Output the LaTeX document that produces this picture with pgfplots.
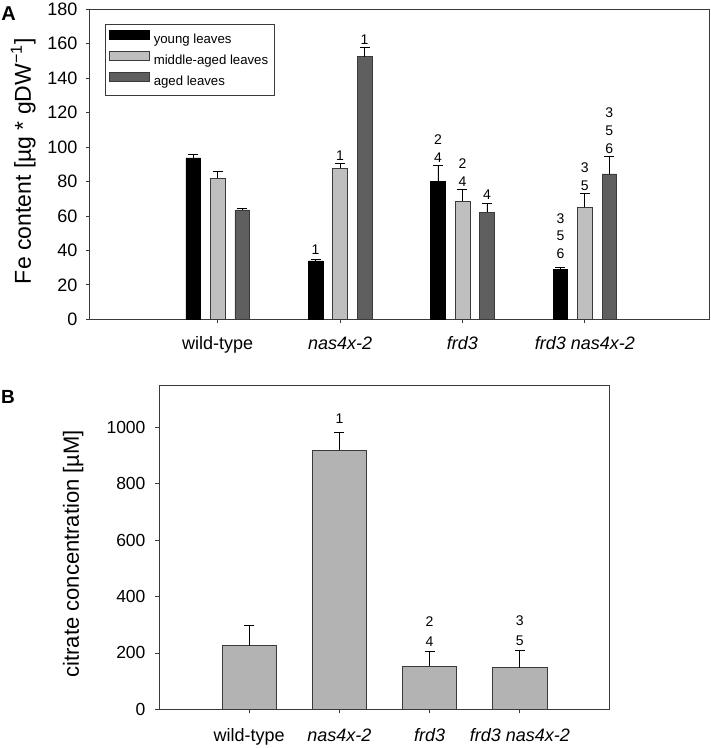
\documentclass[border=0pt]{standalone}
\usepackage{fontspec}
\setmainfont{Liberation Sans}
\usepackage{pgfplots}
\pgfplotsset{compat=1.18}
\definecolor{mid}{HTML}{BFBFBF}
\definecolor{aged}{HTML}{5F5F5F}
\definecolor{citr}{HTML}{B3B3B3}
\definecolor{axc}{HTML}{3A3A3A}
\newcommand{\fsz}[2]{\fontsize{#1}{#2}\selectfont}
\tikzset{ann/.style={anchor=south, font=\fsz{14}{16}, inner sep=1pt}}
\begin{document}
\begin{tikzpicture}
\useasboundingbox (0,0) rectangle (711pt,-748pt);
\begin{axis}[
  at={(90pt,-319.3pt)}, anchor=south west, scale only axis,
  width=619pt, height=310pt, clip=false,
  xmin=-0.043, xmax=5.014, ymin=0, ymax=180,
  ytick={0,20,...,180}, xtick={1,2,3,4},
  xticklabels={wild-type, \textit{nas4x-2}, \textit{frd3}, \textit{frd3 nas4x-2}},
  tick pos=left, tick align=outside, major tick length=4pt,
  axis line style={axc, line width=1pt}, tick style={axc, line width=0.8pt},
  /pgf/number format/assume math mode=true,
  yticklabel style={font=\fsz{18}{20}, xshift=-5pt},
  xticklabel style={font=\fsz{18}{20}, yshift=-10pt},
  ylabel={Fe content [µg * gDW\textsuperscript{−1}]},
  ylabel style={font=\fsz{23}{28}, at={(axis description cs:-0.108,0.51)}, anchor=center},
  ybar, bar width=0.12,
  error bars/y dir=plus, error bars/y explicit,
  error bars/error bar style={black, line width=0.9pt},
  error bars/error mark options={rotate=90, mark size=5pt, line width=0.9pt, black},
  legend image code/.code={\draw[#1] (0pt,0pt) rectangle (40pt,9pt);},
  legend style={at={(axis description cs:0.024,0.953)}, anchor=north west,
    draw=axc, line width=0.8pt, font=\fsz{13.2}{16}, row sep=4.3pt,
    column sep=2.3pt, nodes={inner sep=2pt},
    inner xsep=3.7pt, inner ysep=6pt, cells={anchor=west}},
]
\addplot[fill=black, draw=black, line width=0.5pt, bar shift=-0.2] coordinates
  {(1,93.8) +- (0,2.2) (2,33.9) +- (0,0.9) (3,79.9) +- (0,9.3) (4,29.0) +- (0,1.4)};
\addlegendentry{\fsz{13.2}{16}young leaves}
\addplot[fill=mid, draw=axc, line width=0.5pt, bar shift=0] coordinates
  {(1,81.9) +- (0,3.8) (2,87.7) +- (0,2.9) (3,68.5) +- (0,6.8) (4,65.2) +- (0,7.7)};
\addlegendentry{\fsz{13.2}{16}middle-aged leaves}
\addplot[fill=aged, draw=axc, line width=0.5pt, bar shift=0.2] coordinates
  {(1,63.5) +- (0,0.7) (2,152.5) +- (0,5.2) (3,62.1) +- (0,5.4) (4,84.4) +- (0,10.2)};
\addlegendentry{\fsz{13.2}{16}aged leaves}
\node[ann, yshift=4pt] at (axis cs:1.8,34.8) {1};
\node[ann, yshift=2pt] at (axis cs:2.0,90.6) {1};
\node[ann, yshift=2pt] at (axis cs:2.2,157.7) {1};
\node[ann, yshift=2pt] at (axis cs:2.8,89.2) {4};
\node[ann, yshift=20pt] at (axis cs:2.8,89.2) {2};
\node[ann, yshift=2pt] at (axis cs:3.0,75.3) {4};
\node[ann, yshift=20pt] at (axis cs:3.0,75.3) {2};
\node[ann, yshift=2pt] at (axis cs:3.2,67.5) {4};
\node[ann, yshift=7.5pt] at (axis cs:3.8,30.4) {6};
\node[ann, yshift=25pt] at (axis cs:3.8,30.4) {5};
\node[ann, yshift=42.5pt] at (axis cs:3.8,30.4) {3};
\node[ann, yshift=2pt] at (axis cs:4.0,72.9) {5};
\node[ann, yshift=20pt] at (axis cs:4.0,72.9) {3};
\node[ann, yshift=2pt] at (axis cs:4.2,94.6) {6};
\node[ann, yshift=20pt] at (axis cs:4.2,94.6) {5};
\node[ann, yshift=38pt] at (axis cs:4.2,94.6) {3};
\end{axis}
\begin{axis}[
  at={(159pt,-709.3pt)}, anchor=south west, scale only axis,
  width=451pt, height=324.3pt, clip=false,
  xmin=0, xmax=5, ymin=0, ymax=1150,
  ytick={0,200,...,1000}, xtick={1,2,3,4},
  xticklabels={wild-type, \textit{nas4x-2}, \textit{frd3}, \textit{frd3 nas4x-2}},
  tick pos=left, tick align=outside, major tick length=4pt,
  axis line style={axc, line width=1pt}, tick style={axc, line width=0.8pt},
  /pgf/number format/assume math mode=true,
  /pgf/number format/1000 sep={},
  yticklabel style={font=\fsz{17.5}{20}, xshift=-6pt},
  xticklabel style={font=\fsz{18}{20}, yshift=-12pt},
  ylabel={citrate concentration [µM]},
  ylabel style={font=\fsz{22}{26}, at={(axis description cs:-0.19,0.48)}, anchor=center},
  ybar, bar width=0.6,
  error bars/y dir=plus, error bars/y explicit,
  error bars/error bar style={black, line width=0.9pt},
  error bars/error mark options={rotate=90, mark size=5pt, line width=0.9pt, black},
]
\addplot[fill=citr, draw=axc, line width=0.6pt, bar shift=0] coordinates
  {(1,225.5) +- (0,71) (2,919.5) +- (0,62.5) (3,153.5) +- (0,53.2) (4,147.5) +- (0,62.5)};
\node[ann, yshift=8pt] at (axis cs:2,982) {1};
\node[ann, yshift=3.3pt] at (axis cs:3,206.7) {4};
\node[ann, yshift=23.3pt] at (axis cs:3,206.7) {2};
\node[ann, yshift=3.3pt] at (axis cs:4,210) {5};
\node[ann, yshift=23.3pt] at (axis cs:4,210) {3};
\end{axis}
\node[font=\bfseries\fsz{20}{22}] at (8.5pt,-13.5pt) {A};
\node[font=\bfseries\fsz{19}{22}] at (8pt,-397pt) {B};
\end{tikzpicture}
\end{document}
